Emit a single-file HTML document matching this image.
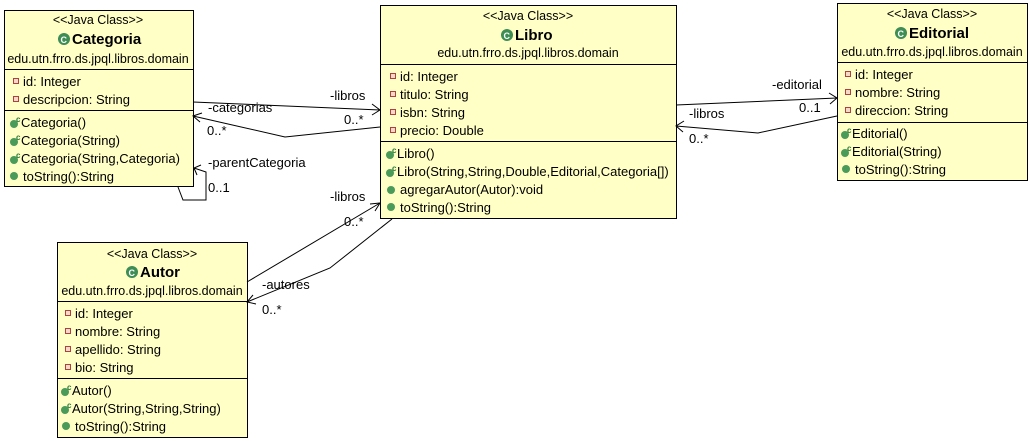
<!DOCTYPE html>
<html><head><meta charset="utf-8"><style>
html,body{margin:0;padding:0;background:#fff;width:1030px;height:441px;overflow:hidden}
svg text{font-family:"Liberation Sans",sans-serif;font-size:13px;fill:#000}
.b{font-weight:bold;font-size:15px}
.h{font-size:12.5px}
</style></head><body>
<svg width="1030" height="441" xmlns="http://www.w3.org/2000/svg">
<defs>
<g id="pr"><rect x="-2.5" y="-2.5" width="5" height="5" fill="#f4d8c8" stroke="#b04040" stroke-width="1"/></g>
<g id="pub"><circle cx="0" cy="0" r="4" fill="#4a9a5a"/></g>
<g id="ctor"><circle cx="0" cy="1" r="4" fill="#4a9a5a"/><text x="2" y="-1" style="font-size:8px;font-weight:bold;fill:#2a7a3a">c</text></g>
<g id="cls"><circle cx="0" cy="0" r="6" fill="#3d8d55"/><text x="-3.5" y="4" style="font-size:9px;font-weight:bold;fill:#fff">C</text></g>
</defs>
<g stroke="#000" stroke-width="1" fill="#ffffc6">
<rect x="4.5" y="10.5" width="189" height="176"/>
<rect x="380.5" y="5.5" width="296" height="213"/>
<rect x="837.5" y="3.5" width="190" height="177"/>
<rect x="57.5" y="242.5" width="190" height="195"/>
</g>
<g stroke="#000" stroke-width="1">
<line x1="4" y1="69.5" x2="193" y2="69.5"/><line x1="4" y1="110.5" x2="193" y2="110.5"/>
<line x1="380" y1="64.5" x2="676" y2="64.5"/><line x1="380" y1="141.5" x2="676" y2="141.5"/>
<line x1="837" y1="62.5" x2="1027" y2="62.5"/><line x1="837" y1="122.5" x2="1027" y2="122.5"/>
<line x1="57" y1="301.5" x2="247" y2="301.5"/><line x1="57" y1="378.5" x2="247" y2="378.5"/>
</g>
<!-- Categoria -->
<text x="98" y="24" text-anchor="middle" class="h">&lt;&lt;Java Class&gt;&gt;</text>
<use href="#cls" x="64" y="39"/><text x="72" y="44" class="b">Categoria</text>
<text x="98" y="63" text-anchor="middle" class="h">edu.utn.frro.ds.jpql.libros.domain</text>
<use href="#pr" x="16" y="81"/><text x="23" y="86">id: Integer</text>
<use href="#pr" x="16" y="99"/><text x="23" y="104">descripcion: String</text>
<use href="#ctor" x="14" y="123"/><text x="21" y="127">Categoria()</text>
<use href="#ctor" x="14" y="141"/><text x="21" y="145">Categoria(String)</text>
<use href="#ctor" x="14" y="159"/><text x="21" y="163">Categoria(String,Categoria)</text>
<use href="#pub" x="14" y="176"/><text x="23" y="181">toString():String</text>
<!-- Libro -->
<text x="528" y="20" text-anchor="middle" class="h">&lt;&lt;Java Class&gt;&gt;</text>
<use href="#cls" x="507" y="35"/><text x="515" y="40" class="b">Libro</text>
<text x="528" y="57" text-anchor="middle" class="h">edu.utn.frro.ds.jpql.libros.domain</text>
<use href="#pr" x="393" y="76"/><text x="400" y="81">id: Integer</text>
<use href="#pr" x="393" y="94"/><text x="400" y="99">titulo: String</text>
<use href="#pr" x="393" y="112"/><text x="400" y="117">isbn: String</text>
<use href="#pr" x="393" y="130"/><text x="400" y="135">precio: Double</text>
<use href="#ctor" x="390" y="154"/><text x="397" y="158">Libro()</text>
<use href="#ctor" x="390" y="172"/><text x="397" y="176">Libro(String,String,Double,Editorial,Categoria[])</text>
<use href="#pub" x="391" y="190"/><text x="400" y="194">agregarAutor(Autor):void</text>
<use href="#pub" x="391" y="207"/><text x="400" y="212">toString():String</text>
<!-- Editorial -->
<text x="932" y="18" text-anchor="middle" class="h">&lt;&lt;Java Class&gt;&gt;</text>
<use href="#cls" x="901" y="33"/><text x="909" y="38" class="b">Editorial</text>
<text x="932" y="56" text-anchor="middle" class="h">edu.utn.frro.ds.jpql.libros.domain</text>
<use href="#pr" x="848" y="74"/><text x="855" y="79">id: Integer</text>
<use href="#pr" x="848" y="92"/><text x="855" y="97">nombre: String</text>
<use href="#pr" x="848" y="110"/><text x="855" y="115">direccion: String</text>
<use href="#ctor" x="845" y="134"/><text x="852" y="138">Editorial()</text>
<use href="#ctor" x="845" y="152"/><text x="852" y="156">Editorial(String)</text>
<use href="#pub" x="846" y="169"/><text x="855" y="174">toString():String</text>
<!-- Autor -->
<text x="152" y="258" text-anchor="middle" class="h">&lt;&lt;Java Class&gt;&gt;</text>
<use href="#cls" x="132" y="272"/><text x="140" y="277" class="b">Autor</text>
<text x="152" y="295" text-anchor="middle" class="h">edu.utn.frro.ds.jpql.libros.domain</text>
<use href="#pr" x="68" y="313"/><text x="75" y="318">id: Integer</text>
<use href="#pr" x="68" y="331"/><text x="75" y="336">nombre: String</text>
<use href="#pr" x="68" y="349"/><text x="75" y="354">apellido: String</text>
<use href="#pr" x="68" y="367"/><text x="75" y="372">bio: String</text>
<use href="#ctor" x="65" y="391"/><text x="72" y="395">Autor()</text>
<use href="#ctor" x="65" y="409"/><text x="72" y="413">Autor(String,String,String)</text>
<use href="#pub" x="66" y="426"/><text x="75" y="431">toString():String</text>
<!-- connectors -->
<g stroke="#000" stroke-width="1" fill="none">
<polyline points="193,102 380,110"/><polyline points="372,104 380,110 372,115"/>
<polyline points="380,127 285,137 193,116"/><polyline points="202,113 193,116 200,122"/>
<polyline points="178,187 183,200 206,200 206,172 194,168"/><polyline points="197,175 194,168 201,165"/>
<polyline points="676,105 837,98"/><polyline points="829,93 837,98 830,104"/>
<polyline points="837,116 758,133 676,126"/><polyline points="684,121 676,126 683,132"/>
<polyline points="247,282 380,203"/><polyline points="370,204 380,203 375,211"/>
<polyline points="392,219 330,268 247,302"/><polyline points="253,295 247,302 256,304"/>
</g>
<text x="330" y="100">-libros</text>
<text x="208" y="112">-categorias</text>
<text x="207" y="135">0..*</text>
<text x="344" y="124">0..*</text>
<text x="208" y="167">-parentCategoria</text>
<text x="208" y="192">0..1</text>
<text x="772" y="89">-editorial</text>
<text x="799" y="112">0..1</text>
<text x="689" y="118">-libros</text>
<text x="689" y="143">0..*</text>
<text x="330" y="201">-libros</text>
<text x="344" y="226">0..*</text>
<text x="262" y="289">-autores</text>
<text x="262" y="314">0..*</text>
</svg>
</body></html>
